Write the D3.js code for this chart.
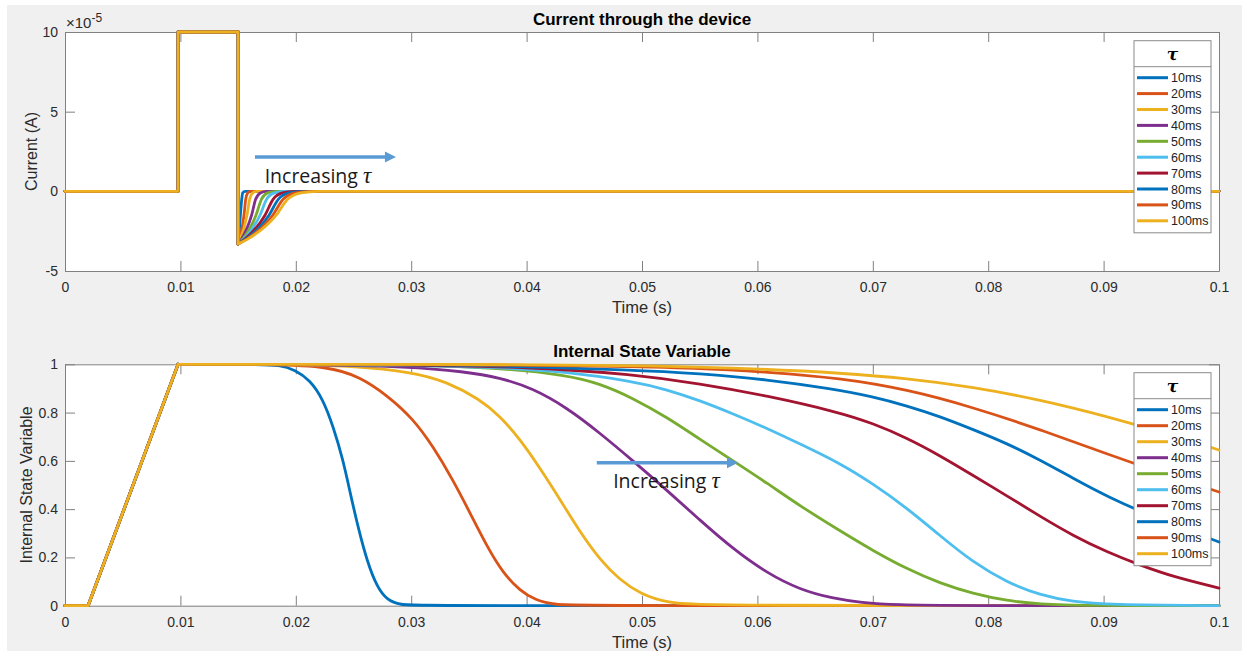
<!DOCTYPE html>
<html>
<head>
<meta charset="utf-8">
<script src="https://cdn.jsdelivr.net/npm/d3@7"></script>
<style>
	body { margin: 0; background: #fff; }
	svg text { font-family: "Liberation Sans", Arial, sans-serif; }
</style>
</head>
<body>
<div id="chart"></div>
<script>

// ---- data ----

var tauLabels = ["10ms", "20ms", "30ms", "40ms", "50ms", "60ms", "70ms", "80ms", "90ms", "100ms"];

var xTicks = [0, 0.01, 0.02, 0.03, 0.04, 0.05, 0.06, 0.07, 0.08, 0.09, 0.1];
var currentTicks = [-5, 0, 5, 10];
var stateTicks = [0, 0.2, 0.4, 0.6, 0.8, 1];

// current, in units of 1e-5 A. same pulse for every tau
var currentPulse = [[0, 0], [0.0098, 0], [0.0098, 10], [0.015, 10], [0.015, -3.3]];

// recovery after the pulse, one per tau
var currentTails = [
	[[0.015, -3.3], [0.01505, -3.0], [0.0152, -1.5], [0.0153, -0.6], [0.0154, -0.1], [0.0156, 0], [0.1, 0]],
	[[0.015, -3.3], [0.01513, -3.0], [0.01551, -1.5], [0.01566, -0.5], [0.01584, -0.1], [0.01607, 0], [0.1, 0]],
	[[0.015, -3.3], [0.01519, -3.0], [0.01577, -1.5], [0.016, -0.5], [0.01627, -0.1], [0.01662, 0], [0.1, 0]],
	[[0.015, -3.3], [0.01529, -3.0], [0.01617, -1.5], [0.01652, -0.5], [0.01693, -0.1], [0.01746, 0], [0.1, 0]],
	[[0.015, -3.3], [0.01539, -3.0], [0.01655, -1.5], [0.01702, -0.5], [0.01756, -0.1], [0.01826, 0], [0.1, 0]],
	[[0.015, -3.3], [0.01548, -3.0], [0.0169, -1.5], [0.01747, -0.5], [0.01814, -0.1], [0.01899, 0], [0.1, 0]],
	[[0.015, -3.3], [0.01558, -3.0], [0.01733, -1.5], [0.01803, -0.5], [0.01884, -0.1], [0.01989, 0], [0.1, 0]],
	[[0.015, -3.3], [0.01567, -3.0], [0.01768, -1.5], [0.01848, -0.5], [0.01942, -0.1], [0.02063, 0], [0.1, 0]],
	[[0.015, -3.3], [0.01575, -3.0], [0.018, -1.5], [0.0189, -0.5], [0.01995, -0.1], [0.0213, 0], [0.1, 0]],
	[[0.015, -3.3], [0.01583, -3.0], [0.0183, -1.5], [0.01929, -0.5], [0.02045, -0.1], [0.02193, 0], [0.1, 0]]
];

// internal state: shared ramp, then decay per tau
var stateRamp = [[0, 0], [0.002, 0], [0.0098, 1]];

var stateTails = [
	[[0.0098, 1], [0.0165, 1], [0.01863, 0.997], [0.01993, 0.977], [0.02123, 0.935], [0.02236, 0.855], [0.02322, 0.745],
		[0.02409, 0.605], [0.0247, 0.47], [0.02539, 0.326], [0.02617, 0.185], [0.02704, 0.077], [0.0279, 0.024],
		[0.029, 0.003], [0.031, 0], [0.1, 0]],
	[[0.0098, 1], [0.018, 1], [0.02296, 0.99], [0.02556, 0.948], [0.0279, 0.872], [0.03016, 0.775], [0.03189, 0.66],
		[0.03362, 0.521], [0.0351, 0.384], [0.03657, 0.245], [0.03796, 0.135], [0.03943, 0.062], [0.04073, 0.024],
		[0.04246, 0.003], [0.045, 0], [0.1, 0]],
	[[0.0098, 1], [0.019, 1], [0.02444, 0.995], [0.03016, 0.968], [0.0331, 0.927], [0.03596, 0.855], [0.0377, 0.785],
		[0.03943, 0.69], [0.04116, 0.57], [0.0429, 0.44], [0.04463, 0.305], [0.04636, 0.19], [0.0481, 0.106],
		[0.04983, 0.05], [0.05217, 0.011], [0.0555, 0], [0.1, 0]],
	[[0.0098, 1], [0.02, 1], [0.03016, 0.99], [0.03449, 0.97], [0.0377, 0.945], [0.04055, 0.9], [0.0435, 0.82],
		[0.04636, 0.715], [0.04922, 0.6], [0.05217, 0.478], [0.055, 0.355], [0.05789, 0.235], [0.06083, 0.135],
		[0.0637, 0.066], [0.06655, 0.03], [0.06889, 0.013], [0.0724, 0.003], [0.076, 0], [0.1, 0]],
	[[0.0098, 1], [0.022, 1], [0.03, 0.997], [0.0377, 0.985], [0.0435, 0.955], [0.04636, 0.92], [0.04922, 0.86],
		[0.05217, 0.78], [0.055, 0.69], [0.05789, 0.6], [0.06083, 0.508], [0.0637, 0.413], [0.06716, 0.31],
		[0.07002, 0.228], [0.07296, 0.152], [0.07582, 0.093], [0.07868, 0.05], [0.08163, 0.02], [0.08449, 0.006],
		[0.088, 0], [0.1, 0]],
	[[0.0098, 1], [0.025, 1], [0.0377, 0.989], [0.0435, 0.968], [0.04922, 0.93], [0.05217, 0.895], [0.055, 0.85],
		[0.05789, 0.795], [0.06083, 0.735], [0.0637, 0.67], [0.06716, 0.59], [0.07002, 0.505], [0.07296, 0.405],
		[0.07582, 0.29], [0.07868, 0.18], [0.08163, 0.096], [0.08449, 0.044], [0.08735, 0.016], [0.0903, 0.004],
		[0.1, 0]],
	[[0.0098, 1], [0.028, 1], [0.04055, 0.989], [0.04922, 0.958], [0.055, 0.92], [0.06083, 0.87], [0.06716, 0.8],
		[0.07002, 0.755], [0.07296, 0.695], [0.07582, 0.622], [0.07868, 0.54], [0.08163, 0.455], [0.08449, 0.37],
		[0.08735, 0.29], [0.0903, 0.222], [0.09315, 0.168], [0.09601, 0.12], [0.1, 0.073]],
	[[0.0098, 1], [0.03, 1], [0.0377, 0.993], [0.04922, 0.977], [0.055, 0.962], [0.06083, 0.937], [0.06655, 0.898],
		[0.07002, 0.866], [0.07296, 0.828], [0.07582, 0.784], [0.07868, 0.73], [0.08163, 0.672], [0.08449, 0.604],
		[0.08735, 0.528], [0.0903, 0.452], [0.09489, 0.355], [0.1, 0.264]],
	[[0.0098, 1], [0.035, 1], [0.04636, 0.993], [0.055, 0.985], [0.06083, 0.968], [0.06716, 0.943], [0.07296, 0.896],
		[0.07868, 0.822], [0.08449, 0.73], [0.0903, 0.628], [0.09489, 0.552], [0.1, 0.471]],
	[[0.0098, 1], [0.04, 1], [0.0507, 0.995], [0.06083, 0.98], [0.06716, 0.964], [0.07296, 0.942], [0.07868, 0.906],
		[0.08449, 0.853], [0.0903, 0.784], [0.09619, 0.703], [0.1, 0.645]]
];

// matlab default line order, wraps after 7
var lineColors = ["#0072bd", "#d95319", "#edb120", "#7e2f8e", "#77ac30", "#4dbeee", "#a2142f",
	"#0072bd", "#d95319", "#edb120"];

var W = 1242, H = 651;

var svg = d3.select("#chart")
	.append("svg")
	.attr("width", W)
	.attr("height", H);

// figure background
svg.append("rect")
	.attr("x", 7).attr("y", 5)
	.attr("width", W - 7).attr("height", H - 5)
	.attr("fill", "#f0f0f0");


var Panel = function(opts) {
	this.svg = opts.svg;
	this.box = opts.box;
	this.x = d3.scaleLinear().domain([0, 0.1]).range([opts.box.left, opts.box.right]);
	this.y = d3.scaleLinear().domain(opts.yDomain).range([opts.box.bottom, opts.box.top]);
	this.g = this.svg.append("g");

	this.frame(opts.yTicks);
	this.labels(opts.title, opts.yLabel, opts.yLabelX);
}

Panel.prototype.frame = function(yTicks) {
	var b = this.box;
	var fmt = function(d) { return String(+d.toFixed(2)); };

	this.g.append("rect")
		.attr("x", b.left).attr("y", b.top)
		.attr("width", b.right - b.left).attr("height", b.bottom - b.top)
		.attr("fill", "#fff");

	// ticks point inwards, on all four sides (box on)
	var axes = [
		{ ax: d3.axisBottom(this.x).tickValues(xTicks).tickFormat(fmt).tickPadding(11), t: "translate(0," + b.bottom + ")" },
		{ ax: d3.axisTop(this.x).tickValues(xTicks).tickFormat(""), t: "translate(0," + b.top + ")" },
		{ ax: d3.axisLeft(this.y).tickValues(yTicks).tickFormat(fmt).tickPadding(7), t: "translate(" + b.left + ",0)" },
		{ ax: d3.axisRight(this.y).tickValues(yTicks).tickFormat(""), t: "translate(" + b.right + ",0)" }
	];
	var self = this;
	axes.forEach(function(a) {
		var gg = self.g.append("g")
			.attr("transform", a.t)
			.call(a.ax.tickSizeInner(-10).tickSizeOuter(0));
		gg.select(".domain").attr("stroke", "#808080").attr("stroke-width", 1);
		gg.selectAll(".tick line").attr("stroke", "#808080");
		gg.selectAll(".tick text")
			.attr("fill", "#2b2b2b")
			.style("font-size", "14px")
			.style("font-family", "'Liberation Sans', Arial, sans-serif");
	});
}

Panel.prototype.labels = function(title, yLabel, yLabelX) {
	var b = this.box;
	var midX = (b.left + b.right) / 2;

	this.svg.append("text")
		.attr("x", midX).attr("y", b.top - 7)
		.attr("text-anchor", "middle")
		.style("font-size", "17px").style("font-weight", "bold")
		.attr("fill", "#000")
		.text(title);

	this.svg.append("text")
		.attr("x", midX).attr("y", b.bottom + 42)
		.attr("text-anchor", "middle")
		.style("font-size", "16.5px")
		.attr("fill", "#2b2b2b")
		.text("Time (s)");

	this.svg.append("text")
		.attr("transform", "translate(" + yLabelX + "," + ((b.top + b.bottom) / 2) + ") rotate(-90)")
		.attr("text-anchor", "middle")
		.style("font-size", "16px")
		.attr("fill", "#2b2b2b")
		.text(yLabel);
}

Panel.prototype.lines = function(head, tails, curve) {
	var x = this.x, y = this.y;
	var straight = d3.line().x(function(d) { return x(d[0]); }).y(function(d) { return y(d[1]); });
	var smooth = d3.line().x(function(d) { return x(d[0]); }).y(function(d) { return y(d[1]); })
		.curve(curve);

	var g = this.g.append("g")
		.attr("fill", "none")
		.attr("stroke-width", 2.8)
		.attr("stroke-linejoin", "round")
		.attr("stroke-linecap", "round");

	tails.forEach(function(tail, i) {
		g.append("path").attr("d", straight(head)).attr("stroke", lineColors[i]);
		g.append("path").attr("d", smooth(tail)).attr("stroke", lineColors[i]);
	});
}

Panel.prototype.legend = function(top, step) {
	var left = 1134, w = 77;
	var h = 37 + 9 * step + 12;
	var g = this.g.append("g");

	g.append("rect")
		.attr("x", left).attr("y", top)
		.attr("width", w).attr("height", h)
		.attr("fill", "#fff").attr("stroke", "#8a8a8a");
	g.append("line")
		.attr("x1", left).attr("x2", left + w)
		.attr("y1", top + 26).attr("y2", top + 26)
		.attr("stroke", "#8a8a8a");
	g.append("text")
		.attr("x", left + w / 2).attr("y", top + 19)
		.attr("text-anchor", "middle")
		.style("font-family", "'DejaVu Serif', serif")
		.style("font-style", "italic").style("font-weight", "bold")
		.style("font-size", "17px")
		.text("\u03c4");

	var rows = g.selectAll("g.row")
		.data(tauLabels)
		.enter().append("g")
		.attr("class", "row")
		.attr("transform", function(d, i) { return "translate(0," + (top + 37 + i * step) + ")"; });
	rows.append("line")
		.attr("x1", left + 3).attr("x2", left + 34)
		.attr("stroke-width", 3)
		.attr("stroke", function(d, i) { return lineColors[i]; });
	rows.append("text")
		.attr("x", left + 37).attr("dy", "0.36em")
		.style("font-size", "12.5px")
		.attr("fill", "#222")
		.text(function(d) { return d; });
}

// blue arrow + "Increasing tau", placed in data units
Panel.prototype.note = function(x0, x1, yv, tx, ty) {
	var X0 = this.x(x0), X1 = this.x(x1), Y = this.y(yv);
	var g = this.g.append("g");
	g.append("line")
		.attr("x1", X0).attr("x2", X1 - 8)
		.attr("y1", Y).attr("y2", Y)
		.attr("stroke", "#5b9bd5").attr("stroke-width", 3.5);
	g.append("path")
		.attr("d", "M" + X1 + "," + Y + "L" + (X1 - 11) + "," + (Y - 5.5) + "L" + (X1 - 11) + "," + (Y + 5.5) + "Z")
		.attr("fill", "#5b9bd5");

	var t = g.append("text")
		.attr("x", this.x(tx)).attr("y", this.y(ty))
		.style("font-family", "'Open Sans', sans-serif")
		.style("font-size", "19.5px")
		.attr("fill", "#1a1a1a");
	t.append("tspan").text("Increasing ");
	t.append("tspan")
		.style("font-family", "'Liberation Serif', serif")
		.style("font-style", "italic")
		.style("font-size", "23px")
		.text("\u03c4");
}


var current = new Panel({
	svg: svg,
	box: { left: 65, right: 1219, top: 32, bottom: 271 },
	yDomain: [-5, 10],
	yTicks: currentTicks,
	title: "Current through the device",
	yLabel: "Current (A)",
	yLabelX: 37
});
current.lines(currentPulse, currentTails, d3.curveMonotoneX);
current.legend(40.7, 15.9);
current.note(0.01646, 0.02868, 2.15, 0.0173, 0.52);

// exponent marker above the y axis
var ex = svg.append("text")
	.attr("x", 66).attr("y", 28)
	.style("font-size", "15px")
	.attr("fill", "#2b2b2b");
ex.append("tspan").text("\u00d710");
ex.append("tspan").attr("dy", -6).style("font-size", "12px").text("-5");

var state = new Panel({
	svg: svg,
	box: { left: 65, right: 1219, top: 364.3, bottom: 605.7 },
	yDomain: [0, 1],
	yTicks: stateTicks,
	title: "Internal State Variable",
	yLabel: "Internal State Variable",
	yLabelX: 32
});
// readings are a bit noisy, a b-spline evens them out
state.lines(stateRamp, stateTails, d3.curveBasis);
state.legend(372.7, 16);
state.note(0.04608, 0.05832, 0.592, 0.0475, 0.486);

</script>
</body>
</html>
